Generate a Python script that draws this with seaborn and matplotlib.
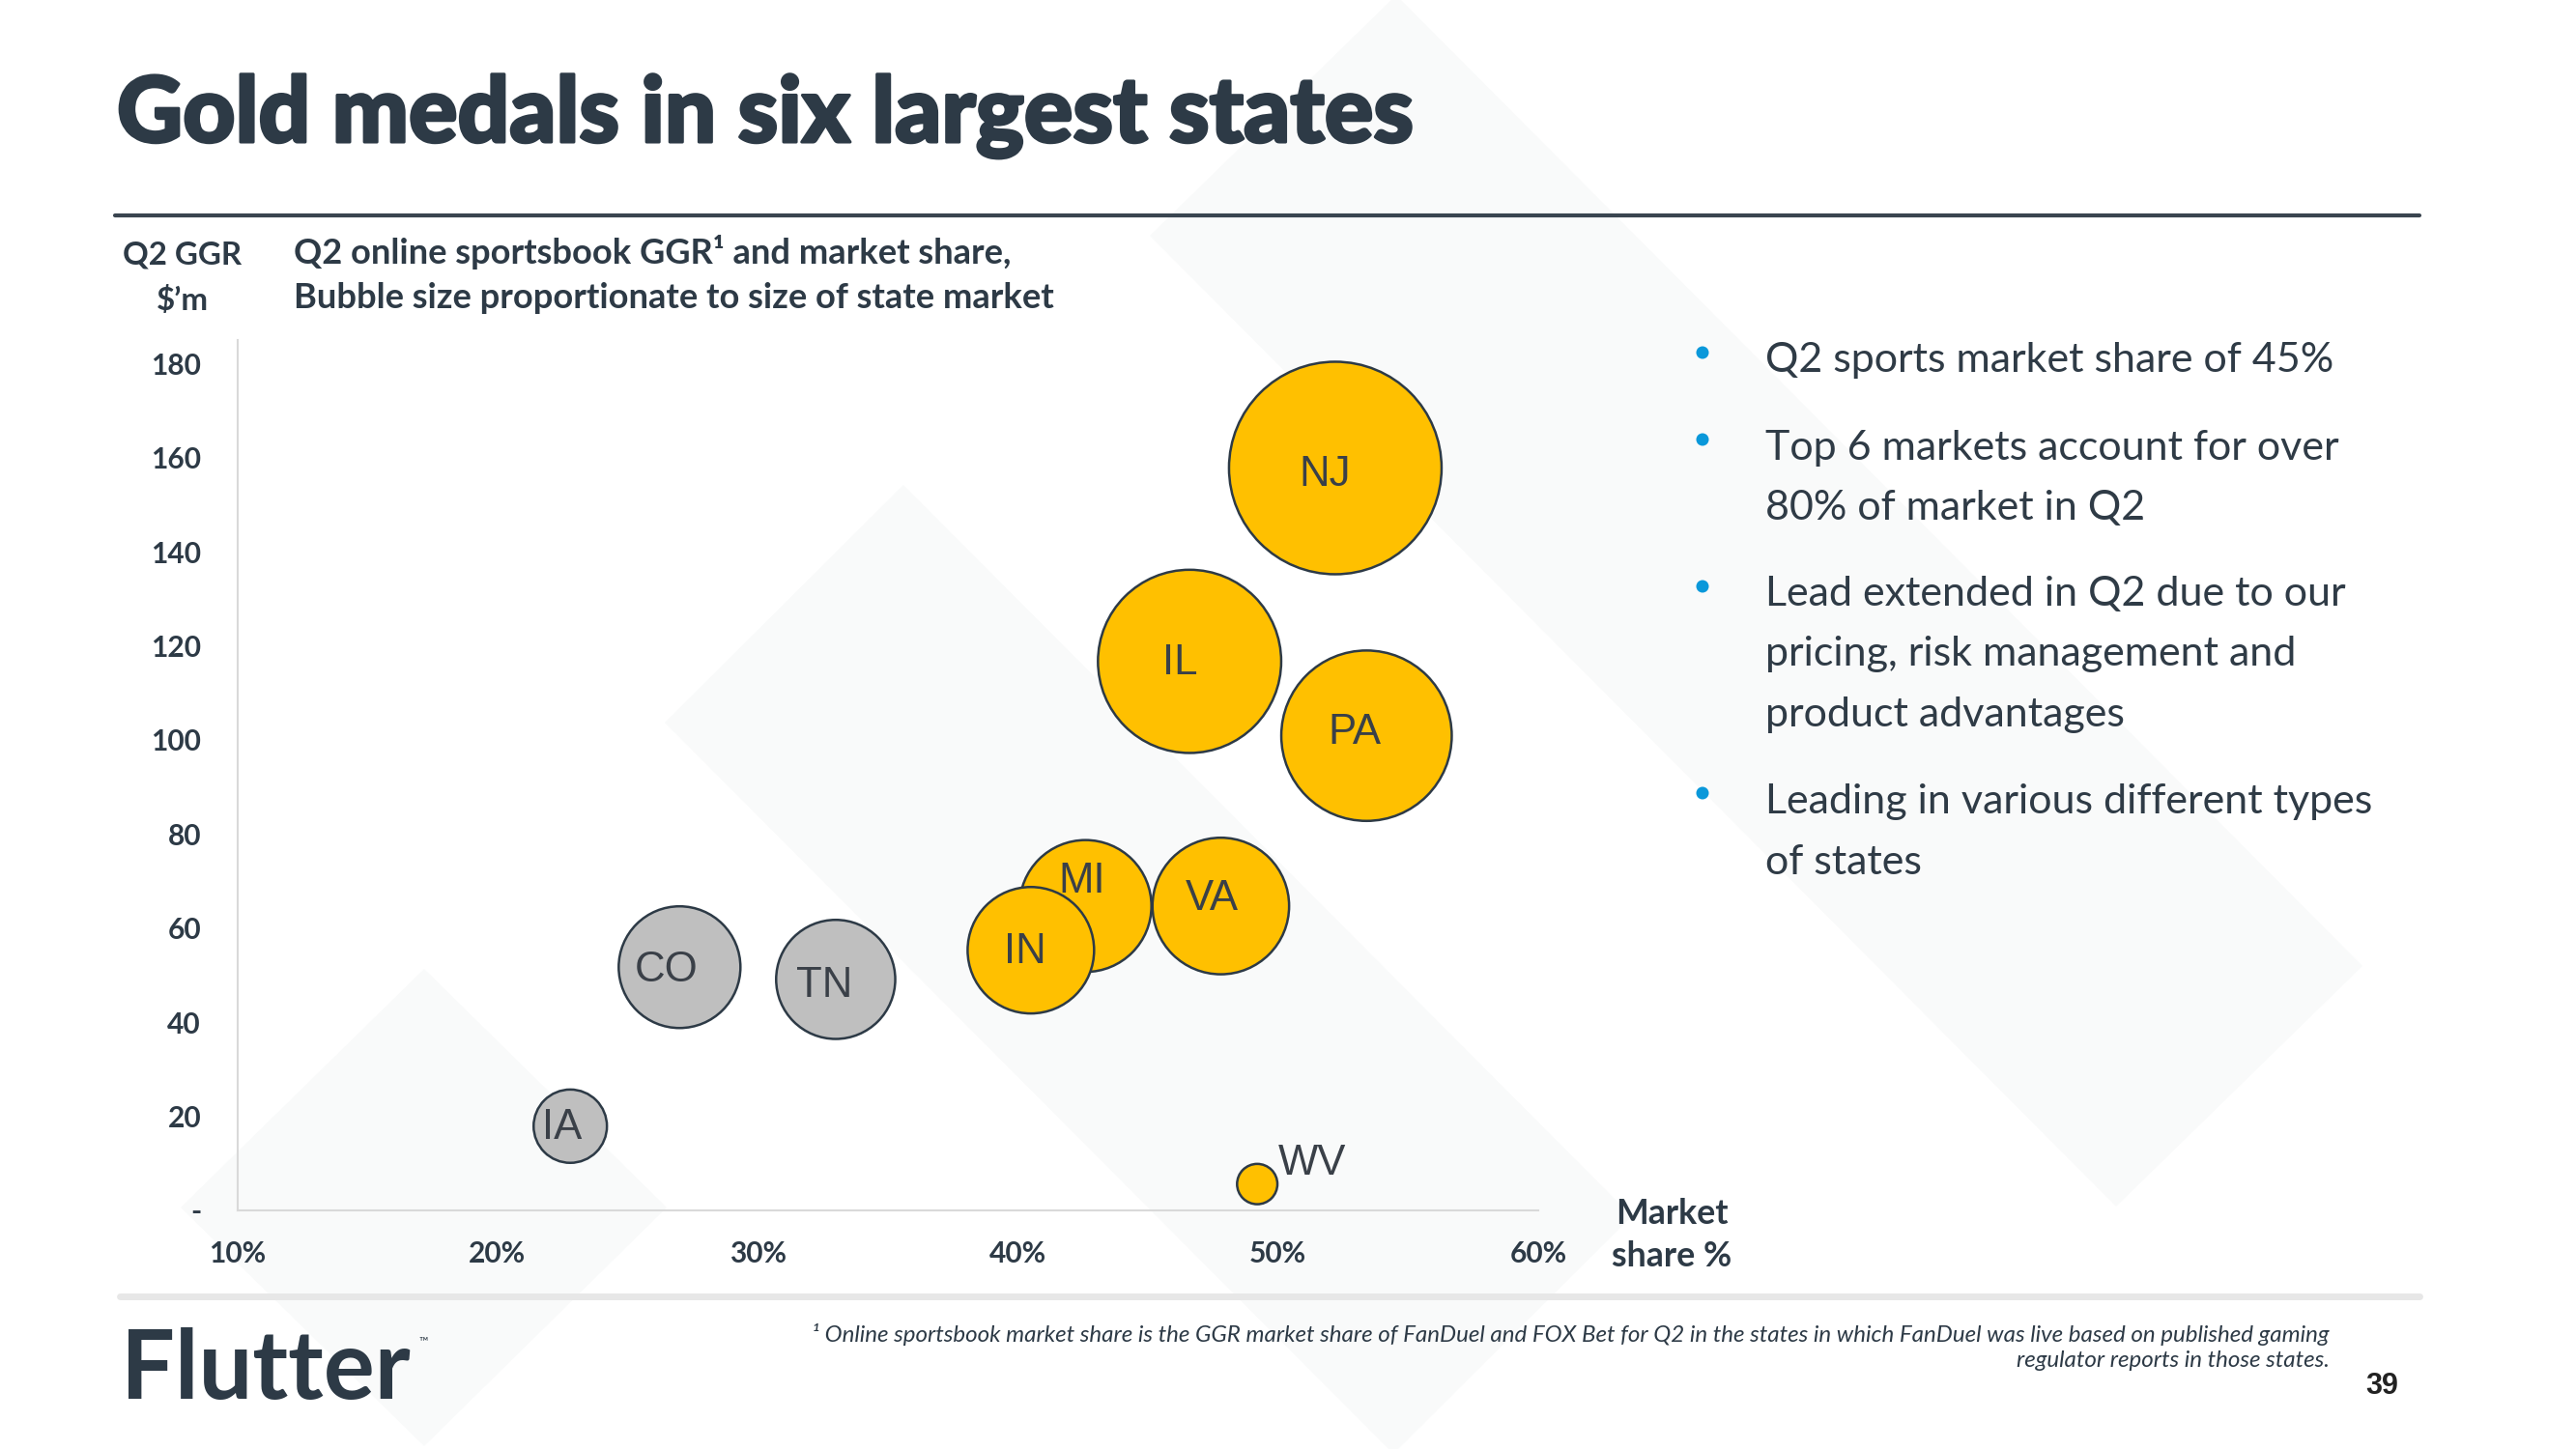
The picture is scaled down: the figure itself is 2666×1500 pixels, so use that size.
import matplotlib
matplotlib.use("Agg")
import matplotlib.pyplot as plt
import matplotlib.transforms as mtransforms
import matplotlib.patheffects as pe
from matplotlib.patches import Polygon, Circle
from matplotlib.lines import Line2D
import seaborn as sns
import pandas as pd

# ---------------- data ----------------
states = ["NJ", "IL", "PA", "MI", "IN", "VA", "CO", "TN", "IA", "WV"]
market_share_pct = [52.2, 46.6, 53.4, 42.6, 40.5, 47.8, 27.0, 33.0, 22.8, 49.2]
q2_ggr_m = [157.8, 116.7, 100.9, 64.7, 55.3, 64.7, 51.7, 49.1, 17.9, 5.6]
state_market_size = [100, 74.3, 64.3, 38.5, 35.4, 41.3, 32.8, 31.4, 11.9, 3.6]
medal = ["Gold", "Gold", "Gold", "Gold", "Gold", "Gold", "Other", "Other", "Other", "Gold"]

x_ticks = [10, 20, 30, 40, 50, 60]
x_tick_labels = ["10%", "20%", "30%", "40%", "50%", "60%"]
y_ticks = [0, 20, 40, 60, 80, 100, 120, 140, 160, 180]
y_tick_labels = ["-", "20", "40", "60", "80", "100", "120", "140", "160", "180"]

title = "Gold medals in six largest states"
subtitle_lines = ["Q2 online sportsbook GGR\u00b9 and market share,",
                  "Bubble size proportionate to size of state market"]
y_label_lines = ["Q2 GGR", "$\u2019m"]
x_label_lines = ["Market", "share %"]
bullets = [["Q2 sports market share of 45%"],
           ["Top 6 markets account for over", "80% of market in Q2"],
           ["Lead extended in Q2 due to our", "pricing, risk management and", "product advantages"],
           ["Leading in various different types", "of states"]]
footnote_lines = ["\u00b9 Online sportsbook market share is the GGR market share of FanDuel and FOX Bet for Q2 in the states in which FanDuel was live based on published gaming",
                  "regulator reports in those states."]
page_number = "39"

df = pd.DataFrame({"state": states, "share": market_share_pct, "ggr": q2_ggr_m,
                   "size": state_market_size, "medal": medal})

# ---------------- styling ----------------
sns.set_theme(style="white")
plt.rcParams["font.family"] = ["Lato", "DejaVu Sans"]

W, H = 2666, 1500
DARK = "#2D3A46"
fig = plt.figure(figsize=(W / 100, H / 100), dpi=100)
fig.patch.set_facecolor("white")
px = mtransforms.Affine2D().scale(1 / W, -1 / H).translate(0, 1) + fig.transFigure
renderer = fig.canvas.get_renderer()


def fit(t, width):
    bb = t.get_window_extent(renderer)
    t.set_fontsize(t.get_fontsize() * width / bb.width)
    return t.get_fontsize()


# faint background diamonds
bg = "#F9FAFA"
for poly in [[(1190, 244), (1445, -5), (2445, 1000), (2190, 1249)],
             [(688, 748), (935, 502), (1689, 1259), (1442, 1505)],
             [(187, 1250), (439, 1003), (690, 1250), (439, 1497)]]:
    fig.add_artist(Polygon(poly, closed=True, transform=px, facecolor=bg,
                           edgecolor="none", zorder=-5))

# ---------------- chart ----------------
ax_l, ax_r, ax_b, ax_t = 245.5, 1592, 1253, 352
ax = fig.add_axes([ax_l / W, 1 - ax_b / H, (ax_r - ax_l) / W, (ax_b - ax_t) / H])
ax.set_facecolor("none")

sns.scatterplot(data=df, x="share", y="ggr", size="size", sizes=(0, 25090),
                size_norm=(0, 100), hue="medal",
                palette={"Gold": "#FFC000", "Other": "#BFBFBF"},
                edgecolor=DARK, linewidth=1.8, alpha=1, legend=False, ax=ax, zorder=3)

ax.set_xlim(10, 60)
ax.set_ylim(0, 185)
ax.set_xticks(x_ticks)
ax.set_xticklabels(x_tick_labels)
ax.set_yticks(y_ticks)
ax.set_yticklabels(y_tick_labels)
ax.tick_params(axis="both", length=0, labelsize=21.5, labelcolor=DARK)
ax.tick_params(axis="y", pad=27)
ax.tick_params(axis="x", pad=22)
for lab in ax.get_xticklabels() + ax.get_yticklabels():
    lab.set_fontweight("bold")
ax.set_xlabel("")
ax.set_ylabel("")
for s in ["top", "right"]:
    ax.spines[s].set_visible(False)
for s in ["left", "bottom"]:
    ax.spines[s].set_color("#D9D9D9")
    ax.spines[s].set_linewidth(1.5)
ax.grid(False)

label_offsets = {"NJ": (-8, -2), "IL": (-7, 1.5), "PA": (-9, 5.5), "MI": (-3, 21),
                 "VA": (-6.5, 8), "IN": (-4, 2), "CO": (-9.5, 0.5), "TN": (-8.5, -1.5),
                 "IA": (-6, 1.5), "WV": (41, 18.5)}
lab_fs = 31.5
for st, xv, yv in zip(states, market_share_pct, q2_ggr_m):
    dx, dy = label_offsets[st]
    ax.annotate(st, (xv, yv), xytext=(dx, dy - 0.358 * lab_fs), textcoords="offset points",
                ha="center", va="baseline", fontsize=lab_fs, color="#3A4048",
                family=["Liberation Sans", "DejaVu Sans"], zorder=5)

# ---------------- texts ----------------
t = fig.text(121, 147, title, transform=px, fontsize=70, fontweight="black",
             color=DARK, ha="left", va="baseline",
             path_effects=[pe.withStroke(linewidth=2.2, foreground=DARK)])
fit(t, 1342)

fig.add_artist(Line2D([119, 2504], [223, 223], transform=px, color="#3A4550", lw=3))

t1 = fig.text(189, 274, y_label_lines[0], transform=px, fontsize=22, fontweight="bold",
              color=DARK, ha="center", va="baseline")
fs = fit(t1, 123)
fig.text(189, 321, y_label_lines[1], transform=px, fontsize=fs, fontweight="bold",
         color=DARK, ha="center", va="baseline")

s1 = fig.text(304, 273, subtitle_lines[0], transform=px, fontsize=22, fontweight="bold",
              color=DARK, ha="left", va="baseline")
fs = fit(s1, 740)
fig.text(304, 319, subtitle_lines[1], transform=px, fontsize=fs, fontweight="bold",
         color=DARK, ha="left", va="baseline")

m1 = fig.text(1730, 1267, x_label_lines[0], transform=px, fontsize=22, fontweight="bold",
              color=DARK, ha="center", va="baseline")
m2 = fig.text(1730, 1311, x_label_lines[1], transform=px, fontsize=22, fontweight="bold",
              color=DARK, ha="center", va="baseline")
fs = fit(m2, 124)
m1.set_fontsize(fs)

# bullets
baselines = [[385], [476, 538], [627, 689, 752], [842, 905]]
dot_y = [365, 455, 607, 821]
b0 = fig.text(1827, 385, bullets[0][0], transform=px, fontsize=30, color="#2F3B46",
              ha="left", va="baseline")
bfs = fit(b0, 589)
for lines, ys, dy in zip(bullets, baselines, dot_y):
    for ln, yy in zip(lines, ys):
        if ln is bullets[0][0]:
            continue
        fig.text(1827, yy, ln, transform=px, fontsize=bfs, color="#2F3B46",
                 ha="left", va="baseline")
    fig.add_artist(Circle((1762, dy), 6.5, transform=px, facecolor="#0A98DA",
                          edgecolor="none"))

# footer
fig.add_artist(Line2D([124, 2504], [1342, 1342], transform=px, color="#E7E7E7", lw=5))
f1 = fig.text(2411, 1389, footnote_lines[0], transform=px, fontsize=15, style="italic",
              color=DARK, ha="right", va="baseline")
ffs = fit(f1, 1576)
fig.text(2411, 1415, footnote_lines[1], transform=px, fontsize=ffs, style="italic",
         color=DARK, ha="right", va="baseline")
fig.text(2465, 1443, page_number, transform=px, fontsize=22, fontweight="bold",
         family=["Liberation Sans", "DejaVu Sans"], color="#222222", ha="center",
         va="baseline")
lg = fig.text(125, 1448, "Flutter", transform=px, fontsize=60, fontweight="bold",
              color=DARK, ha="left", va="baseline")
fit(lg, 300)
fig.text(433, 1392, "\u2122", transform=px, fontsize=9, color=DARK, ha="left",
         va="baseline")

fig.savefig("out.png", dpi=100, facecolor="white")
